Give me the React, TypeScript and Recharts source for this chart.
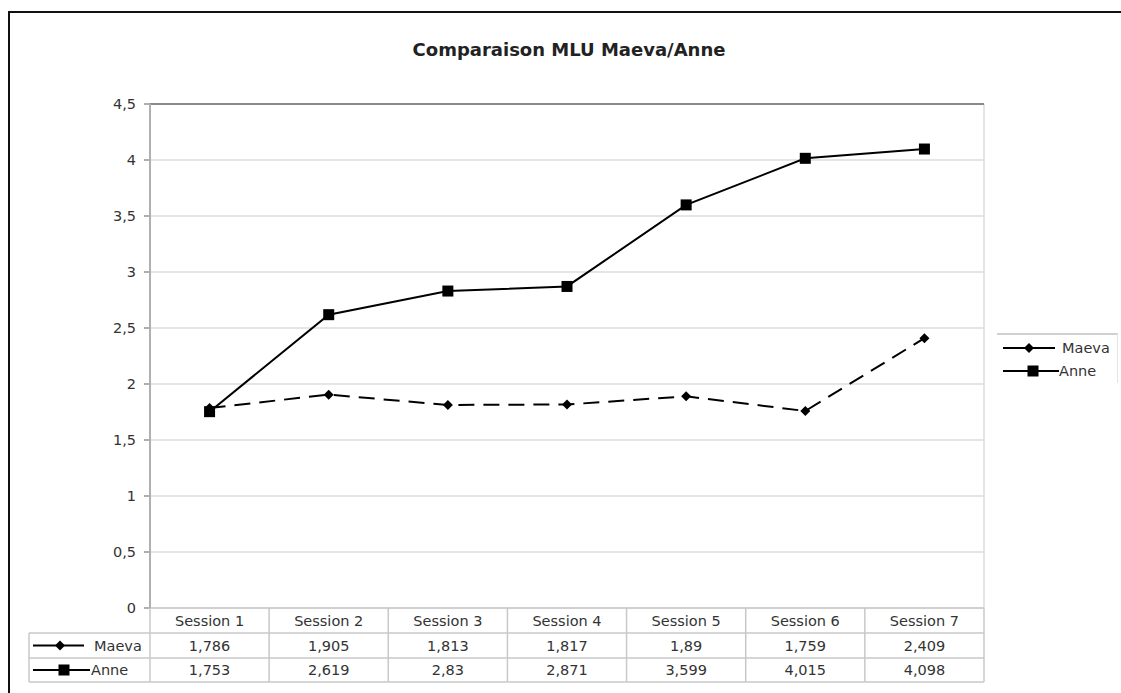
import React from "react";
import {
  LineChart,
  Line,
  XAxis,
  YAxis,
  CartesianGrid,
  ReferenceLine,
} from "recharts";

const sessions = [
  "Session 1",
  "Session 2",
  "Session 3",
  "Session 4",
  "Session 5",
  "Session 6",
  "Session 7",
];
const maeva = [1.786, 1.905, 1.813, 1.817, 1.89, 1.759, 2.409];
const anne = [1.753, 2.619, 2.83, 2.871, 3.599, 4.015, 4.098];
const yTicks = [0, 0.5, 1, 1.5, 2, 2.5, 3, 3.5, 4, 4.5];

const data = sessions.map((name, i) => ({
  name,
  Maeva: maeva[i],
  Anne: anne[i],
}));

const W = 1121;
const H = 693;
const PLOT_LEFT = 150;
const PLOT_RIGHT = 984;
const PLOT_TOP = 104;
const PLOT_BOTTOM = 608;
const ROW1 = 633;
const ROW2 = 658;
const ROW3 = 682;
const TABLE_LEFT = 29;
const FONT = "'DejaVu Sans', Verdana, sans-serif";
const FS = 14.5;
const TEXT = "#333";
const TABLE_LINE = "#c8c8c8";

const fmt = (v: number) => String(v).replace(".", ",");

const Diamond = ({ cx, cy, size = 5 }: { cx: number; cy: number; size?: number }) => (
  <path
    d={`M${cx},${cy - size} L${cx + size},${cy} L${cx},${cy + size} L${cx - size},${cy} Z`}
    fill="#000"
  />
);

const Square = ({ cx, cy, size = 5.5 }: { cx: number; cy: number; size?: number }) => (
  <rect x={cx - size} y={cy - size} width={size * 2} height={size * 2} fill="#000" />
);

const bw = (PLOT_RIGHT - PLOT_LEFT) / sessions.length;

// data table drawn under the axis, one column per category
const TableTick = (props: any) => {
  const { x, payload, index } = props;
  const left = x - bw / 2;
  const right = x + bw / 2;
  const i = typeof index === "number" ? index : sessions.indexOf(payload.value);
  const mid1 = (PLOT_BOTTOM + ROW1) / 2 + 5;
  const mid2 = (ROW1 + ROW2) / 2;
  const mid3 = (ROW2 + ROW3) / 2;
  return (
    <g>
      {[ROW1, ROW2, ROW3].map((y) => (
        <line key={y} x1={left} x2={right} y1={y} y2={y} stroke={TABLE_LINE} strokeWidth={1.5} />
      ))}
      <line x1={right} x2={right} y1={PLOT_BOTTOM} y2={ROW3} stroke={TABLE_LINE} strokeWidth={1.5} />
      {i === 0 && (
        <g>
          <line x1={left} x2={left} y1={PLOT_BOTTOM} y2={ROW3} stroke={TABLE_LINE} strokeWidth={1.5} />
          <line x1={TABLE_LEFT} x2={left} y1={ROW1} y2={ROW1} stroke={TABLE_LINE} strokeWidth={1.5} />
          <line x1={TABLE_LEFT} x2={left} y1={ROW2} y2={ROW2} stroke={TABLE_LINE} strokeWidth={1.5} />
          <line x1={TABLE_LEFT} x2={left} y1={ROW3} y2={ROW3} stroke={TABLE_LINE} strokeWidth={1.5} />
          <line x1={TABLE_LEFT} x2={TABLE_LEFT} y1={ROW1} y2={ROW3} stroke={TABLE_LINE} strokeWidth={1.5} />
          <line x1={33} x2={84} y1={mid2} y2={mid2} stroke="#000" strokeWidth={2} />
          <Diamond cx={60} cy={mid2} size={5} />
          <text x={94} y={mid2 + 5} fontSize={FS} fill={TEXT} fontFamily={FONT}>
            Maeva
          </text>
          <line x1={33} x2={90} y1={mid3} y2={mid3} stroke="#000" strokeWidth={2} />
          <Square cx={64} cy={mid3} size={5.5} />
          <text x={91} y={mid3 + 5} fontSize={FS} fill={TEXT} fontFamily={FONT}>
            Anne
          </text>
        </g>
      )}
      <text x={x} y={mid1} textAnchor="middle" fontSize={FS} fill={TEXT} fontFamily={FONT}>
        {payload.value}
      </text>
      <text x={x} y={mid2 + 5} textAnchor="middle" fontSize={FS} fill={TEXT} fontFamily={FONT}>
        {fmt(maeva[i])}
      </text>
      <text x={x} y={mid3 + 5} textAnchor="middle" fontSize={FS} fill={TEXT} fontFamily={FONT}>
        {fmt(anne[i])}
      </text>
    </g>
  );
};

const LegendBox = () => (
  <div
    style={{
      position: "absolute",
      left: 997,
      top: 333,
      width: 120,
      height: 48,
      borderTop: "2px solid #d0d0d0",
      borderRight: "1px solid #e4e4e4",
    }}
  >
    <svg width={120} height={48} style={{ display: "block" }}>
      <line x1={6} x2={58} y1={13} y2={13} stroke="#000" strokeWidth={2} />
      <Diamond cx={32} cy={13} size={5} />
      <text x={65} y={18} fontSize={FS} fill={TEXT} fontFamily={FONT}>
        Maeva
      </text>
      <line x1={6} x2={62} y1={36} y2={36} stroke="#000" strokeWidth={2} />
      <Square cx={36} cy={36} size={5.5} />
      <text x={62} y={41} fontSize={FS} fill={TEXT} fontFamily={FONT}>
        Anne
      </text>
    </svg>
  </div>
);

export default function App() {
  return (
    <div
      style={{
        position: "absolute",
        left: 0,
        top: 0,
        width: W,
        height: H,
        background: "#fff",
        overflow: "hidden",
      }}
    >
      <div
        style={{
          position: "absolute",
          left: 8,
          top: 11,
          width: W,
          height: H,
          borderTop: "2px solid #111",
          borderLeft: "2px solid #111",
        }}
      />
      <div
        style={{
          position: "absolute",
          left: 0,
          width: 1138,
          top: 39,
          textAlign: "center",
          fontFamily: FONT,
          fontWeight: "bold",
          fontSize: 18,
          color: "#222",
        }}
      >
        Comparaison MLU Maeva/Anne
      </div>
      <div style={{ position: "absolute", left: 0, top: 0 }}>
        <LineChart
          width={W}
          height={H}
          data={data}
          margin={{ top: PLOT_TOP, right: W - PLOT_RIGHT, bottom: 5, left: PLOT_LEFT - 70 }}
        >
          <CartesianGrid
            vertical={true}
            horizontal={true}
            stroke="#dcdcdc"
            strokeWidth={1.5}
            verticalCoordinatesGenerator={({ offset }: any) => [offset.left + offset.width]}
          />
          <ReferenceLine y={4.5} stroke="#8a8a8a" strokeWidth={2} />
          <XAxis
            dataKey="name"
            height={H - PLOT_BOTTOM - 5}
            stroke="#c8c8c8"
            strokeWidth={1.5}
            tickLine={false}
            interval={0}
            padding={{ left: bw / 2, right: bw / 2 }}
            tick={<TableTick />}
          />
          <YAxis
            width={70}
            domain={[0, 4.5]}
            ticks={yTicks}
            tickFormatter={fmt}
            stroke="#b0b0b0"
            strokeWidth={2}
            tickSize={6}
            tickMargin={8}
            tick={{ fill: TEXT, fontSize: FS, fontFamily: FONT }}
            interval={0}
          />
          <Line
            type="linear"
            dataKey="Maeva"
            stroke="#000"
            strokeWidth={2}
            strokeDasharray="16 9"
            dot={(p: any) => <Diamond key={`m${p.index}`} cx={p.cx} cy={p.cy} size={5} />}
            activeDot={false}
            isAnimationActive={false}
          />
          <Line
            type="linear"
            dataKey="Anne"
            stroke="#000"
            strokeWidth={2}
            dot={(p: any) => <Square key={`a${p.index}`} cx={p.cx} cy={p.cy} size={5.5} />}
            activeDot={false}
            isAnimationActive={false}
          />
        </LineChart>
      </div>
      <LegendBox />
    </div>
  );
}
